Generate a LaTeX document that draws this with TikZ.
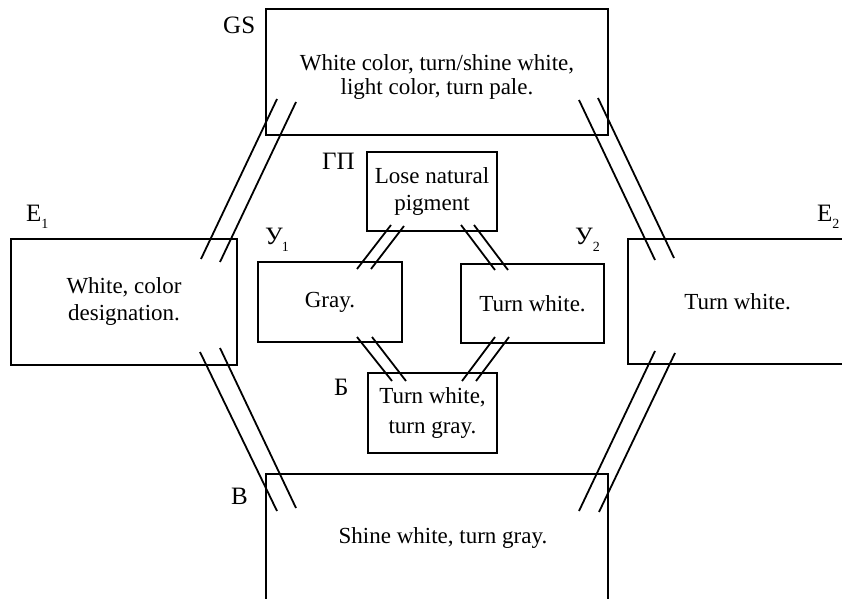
\documentclass[tikz,border=0pt]{standalone}
\usepackage{fontspec}
\setmainfont{Liberation Serif}
\newcommand\lsub[1]{\raisebox{-7bp}{\fontsize{14bp}{14bp}\selectfont #1}}
\begin{document}
\begin{tikzpicture}[x=1bp,y=-1bp,
  box/.style={draw, line width=1.8bp, inner sep=0pt, align=center,
    font=\fontsize{23bp}{27bp}\selectfont},
  tag/.style={inner sep=0pt, anchor=base west, font=\fontsize{25bp}{25bp}\selectfont},
  link/.style={line width=1.8bp}]
\useasboundingbox (0,0) rectangle (842,599);
\clip (0,0) rectangle (842,599);

% outer boxes
\node[box, minimum width=342bp, minimum height=126bp,
  font=\fontsize{23bp}{24bp}\selectfont] (GS) at (437,72)
  {\rule{0pt}{25bp}White color, turn/shine white,\\light color, turn pale.};
\node[box, minimum width=226bp, minimum height=126bp] (E1) at (124,302)
  {White, color\\designation.};
\node[box, minimum width=219bp, minimum height=125bp] (E2) at (737.5,301.5)
  {Turn white.};
\node[box, minimum width=342bp, minimum height=127bp] (V) at (437,537.5)
  {\hspace*{12bp}Shine white, turn gray.};

% inner boxes
\node[box, minimum width=130bp, minimum height=79bp] (GP) at (432,191.5)
  {Lose natural\\pigment};
\node[box, minimum width=144bp, minimum height=80bp] (U1) at (330,302)
  {Gray.};
\node[box, minimum width=143bp, minimum height=79bp] (U2) at (532.5,303.5)
  {Turn white.};
\node[box, minimum width=129bp, minimum height=80bp,
  font=\fontsize{23bp}{29bp}\selectfont] (B) at (432.5,413)
  {Turn white,\\turn gray.};

% labels
\node[tag] (tGS) at (223,34) {GS};
\node[tag] (tE1) at (26,222) {E\lsub{1}};
\node[tag] (tE2) at (817,222) {E\lsub{2}};
\node[tag] (tU1) at (265,245) {У\kern-1bp\lsub{1}};
\node[tag] (tU2) at (575,245) {У\lsub{2}};
\node[tag] (tGP) at (322,170) {ГП};
\node[tag] (tB) at (334,395) {Б};
\node[tag] (tV) at (231,504) {В};

% double-line connectors: end points
\coordinate (ga1) at (277,99);  \coordinate (ea1) at (201,259);
\coordinate (ga2) at (296,102); \coordinate (ea2) at (220,262);
\coordinate (gb1) at (579,100); \coordinate (eb1) at (655,260);
\coordinate (gb2) at (598,98);  \coordinate (eb2) at (674,258);
\coordinate (ec1) at (200,352); \coordinate (vc1) at (277,511);
\coordinate (ec2) at (220,348); \coordinate (vc2) at (296,508);
\coordinate (ed1) at (655,351); \coordinate (vd1) at (579,511);
\coordinate (ed2) at (675,353); \coordinate (vd2) at (599,512);
\coordinate (pa1) at (391,225); \coordinate (ua1) at (357,269);
\coordinate (pa2) at (404,226); \coordinate (ua2) at (371,269);
\coordinate (pb1) at (461,225); \coordinate (ub1) at (495,270);
\coordinate (pb2) at (474,225); \coordinate (ub2) at (508,270);
\coordinate (uc1) at (357,337); \coordinate (bc1) at (392,381);
\coordinate (uc2) at (372,337); \coordinate (bc2) at (406,381);
\coordinate (ud1) at (495,337); \coordinate (bd1) at (462,381);
\coordinate (ud2) at (509,337); \coordinate (bd2) at (476,381);

\draw[link] (ga1) -- (ea1) (ga2) -- (ea2);
\draw[link] (gb1) -- (eb1) (gb2) -- (eb2);
\draw[link] (ec1) -- (vc1) (ec2) -- (vc2);
\draw[link] (ed1) -- (vd1) (ed2) -- (vd2);
\draw[link] (pa1) -- (ua1) (pa2) -- (ua2);
\draw[link] (pb1) -- (ub1) (pb2) -- (ub2);
\draw[link] (uc1) -- (bc1) (uc2) -- (bc2);
\draw[link] (ud1) -- (bd1) (ud2) -- (bd2);
\end{tikzpicture}
\end{document}
